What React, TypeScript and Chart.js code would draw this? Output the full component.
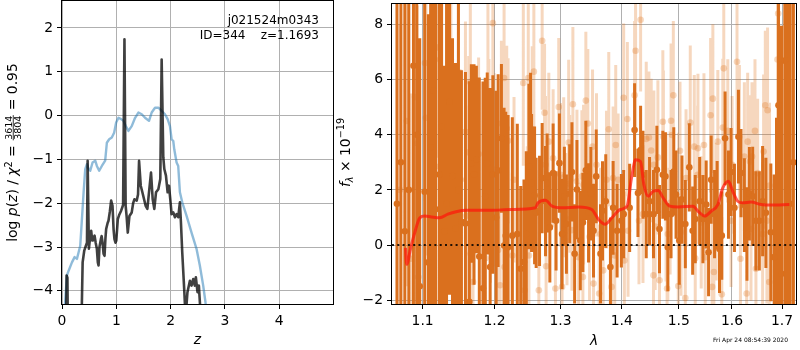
import React, { useEffect, useRef } from "react";
import { Chart, registerables } from "chart.js";
Chart.register(...registerables);

const FONT = "'DejaVu Sans', Verdana, sans-serif";

// ---------------- Left panel: p(z) ----------------
const pzZ = [0.0, 0.065, 0.085, 0.1, 0.115, 0.34, 0.38, 0.41, 0.44, 0.46,
  0.472, 0.495, 0.52, 0.538, 0.555, 0.569, 0.6, 0.62, 0.642, 0.66,
  0.673, 0.69, 0.716, 0.73, 0.746, 0.765, 0.783, 0.8, 0.813, 0.84,
  0.856, 0.88, 0.905, 0.93, 0.95, 0.966, 0.985, 1.0, 1.028, 1.052,
  1.089, 1.125, 1.15, 1.172, 1.19, 1.211, 1.242, 1.284, 1.31, 1.333,
  1.376, 1.4, 1.419, 1.45, 1.48, 1.511, 1.541, 1.572, 1.602, 1.639,
  1.67, 1.7, 1.731, 1.774, 1.81, 1.835, 1.865, 1.884, 1.914, 1.945,
  1.97, 1.994, 2.018, 2.049, 2.08, 2.11, 2.14, 2.171, 2.19, 2.214,
  2.25, 2.275, 2.31, 2.355, 2.385, 2.416, 2.446, 2.465, 2.495, 2.52,
  2.556, 2.6, 5.0];
const pzLog = [-6, -6, -3.65, -3.7, -6, -6, -3.35, -3.08, -2.97, -2.9,
  -1.03, -3.04, -2.75, -2.63, -2.85, -2.82, -2.74, -2.9, -3.04, -3.35,
  -3.42, -3.0, -2.82, -2.75, -2.89, -3.15, -3.2, -2.8, -2.59, -2.45,
  -2.4, -2.2, -1.94, -2.06, -2.6, -2.82, -2.9, -2.85, -2.36, -2.27,
  -2.17, -2.04, 1.74, -2.06, -2.3, -2.67, -2.29, -2.21, -2.0, -1.91,
  -1.94, -1.8, -1.03, -1.6, -1.75, -1.91, -2.06, -2.13, -1.75, -1.3,
  -1.91, -2.13, -1.75, -1.68, -1.45, 1.28, -0.95, -1.22, -1.37, -1.75,
  -1.6, -1.91, -2.25, -2.21, -2.32, -2.25, -2.32, -1.98, -2.44, -3.12,
  -3.96, -4.6, -4.03, -3.77, -3.88, -3.73, -3.88, -3.69, -4.03, -3.88,
  -4.6, -6, -6];
const chiZ = [0.0, 0.04, 0.09, 0.122, 0.183, 0.232, 0.275, 0.306, 0.336, 0.367,
  0.398, 0.428, 0.459, 0.49, 0.52, 0.563, 0.612, 0.642, 0.685, 0.734,
  0.795, 0.826, 0.869, 0.917, 0.96, 0.997, 1.04, 1.089, 1.131, 1.174,
  1.223, 1.284, 1.346, 1.407, 1.468, 1.529, 1.602, 1.651, 1.713, 1.774,
  1.835, 1.896, 1.945, 1.988, 2.018, 2.049, 2.067, 2.11, 2.14, 2.171,
  2.214, 2.294, 2.385, 2.477, 2.538, 2.6, 2.642, 2.7, 5.0];
const chiVal = [-6, -4.6, -3.65, -3.54, -3.35, -3.23, -3.27, -3.12, -2.97, -2.36,
  -1.75, -1.22, -1.11, -1.22, -1.26, -1.07, -1.03, -1.15, -1.26, -1.15,
  -1.03, -0.62, -0.54, -0.5, -0.39, -0.16, -0.05, -0.08, -0.12, -0.24,
  -0.35, -0.24, -0.05, 0.07, 0.03, -0.05, -0.12, 0.07, 0.18, 0.18,
  0.11, 0.03, -0.08, -0.24, -0.54, -0.58, -0.77, -1.07, -1.15, -1.75,
  -1.98, -2.29, -2.67, -3.04, -3.42, -3.88, -4.26, -5, -6];
const zRange = [0, 4.99];
const logRange = [-4.3, 2.615];
const zTicks = [0, 1, 2, 3, 4];
const logTicks = [-4, -3, -2, -1, 0, 1, 2];
const objName = "j021524m0343";
const objInfo = "ID=344    z=1.1693";

// ---------------- Right panel: spectrum ----------------
const darkLam = [
  1.0664, 1.0715, 1.0766, 1.0818, 1.0879, 1.0922, 1.0962, 1.1028, 1.1077, 1.1108,
  1.1145, 1.1175, 1.1225, 1.1256, 1.1297, 1.1324, 1.1365, 1.1406, 1.1447, 1.1488,
  1.153, 1.1586, 1.1641, 1.1669, 1.1707, 1.174, 1.1782, 1.1835, 1.1867, 1.1896,
  1.1938, 1.1977, 1.2025, 1.2054, 1.2102, 1.2141, 1.2166, 1.22, 1.2263, 1.2337,
  1.2388, 1.2437, 1.2472, 1.2512, 1.2537, 1.2552, 1.2598, 1.2622, 1.2674, 1.2714,
  1.2766, 1.2791, 1.2833, 1.2884, 1.293, 1.2983, 1.3024, 1.3061, 1.3093, 1.3145,
  1.3181, 1.3224, 1.3261, 1.3315, 1.3357, 1.3405, 1.3449, 1.3486, 1.353, 1.3574,
  1.3645, 1.3678, 1.3732, 1.381, 1.3855, 1.3922, 1.3994, 1.4033, 1.4135, 1.422,
  1.4278, 1.4324, 1.4365, 1.4422, 1.448, 1.4549, 1.4609, 1.4655, 1.4715, 1.4761,
  1.4804, 1.4862, 1.4911, 1.4952, 1.5011, 1.506, 1.5121, 1.5194, 1.5256, 1.5304,
  1.5386, 1.5447, 1.5508, 1.5553, 1.5602, 1.5666, 1.5715, 1.576, 1.5804, 1.5867,
  1.5932, 1.5982, 1.6048, 1.6126, 1.6176, 1.6242, 1.6293, 1.6341, 1.6406, 1.6471,
  1.6539, 1.6605, 1.6671, 1.6771, 1.684, 1.6886, 1.6927, 1.6989, 1.7057, 1.7112,
  1.7168, 1.7236];
const darkFlux = [
  1.5, 3.0, 0.5, 2.0, 6.5, 4.0, -1.5, 1.93, -0.63, 3.55,
  5.6, 1.3, 2.56, 4.3, 0.5, 1.5, 5.2, 2.5, 0.6, 2.0,
  0.84, 0.78, -2.06, 2.96, 2.56, 3.1, -0.42, -1.57, 1.77, 2.96,
  -0.8, 2.56, 1.0, 2.7, 3.87, -0.02, 0.34, -0.08, 0.34, 0.4,
  -0.86, -0.62, 0.4, 2.85, 3.25, 2.25, 1.8, 1.17, 1.24, 2.43,
  1.59, 2.25, 0.64, 2.61, 0.88, 2.97, 0.4, 1.77, 0.76, 1.86,
  2.65, -0.32, 2.01, 0.16, 0.82, 2.71, 1.17, 1.86, 0.52, 2.49,
  -0.32, 1.24, 1.59, -0.8, 1.35, 0.52, 0.88, 1.12, 1.35, 4.17,
  1.89, 3.45, 2.55, 1.12, 1.59, 1.12, 2.73, 0.58, 2.55, 2.49,
  -0.08, 1.12, 2.67, 1.83, 0.16, 1.65, 0.76, 2.82, 0.52, 0.94,
  1.59, 0.94, 1.47, -0.26, 2.37, 1.12, 1.45, -0.14, 0.34, 3.87,
  1.83, 2.65, 1.35, 3.93, 2.61, 1.45, 0.4, 1.86, 1.77, 0.88,
  0.88, 1.59, 1.17, 0.46, -0.44, 1.12, 5.07, -1.04, 6.69, 2.0,
  1.5, 3.0];
const darkErr = [
  9, 9, 9, 9, 9, 8, 9, 8, 9, 7,
  8, 9, 7, 8, 6, 8, 7, 5, 6, 7,
  5.5, 5.5, 8, 3.6, 4, 3.4, 6.5, 7.5, 4.3, 3.3,
  6.5, 3.6, 4.6, 3.5, 2.7, 5, 4.5, 4.8, 4.3, 4,
  3, 3, 3, 3, 3, 2.5, 2.5, 2, 2, 2,
  2, 1.8, 2, 1.8, 1.8, 1.8, 2, 1.8, 1.8, 1.8,
  1.8, 1.8, 1.8, 1.8, 1.8, 1.8, 1.8, 1.7, 1.7, 1.7,
  1.8, 1.8, 1.7, 1.8, 1.7, 1.7, 1.7, 1.6, 1.6, 1.7,
  1.6, 1.6, 1.6, 1.6, 1.6, 1.6, 1.6, 1.6, 1.6, 1.6,
  1.6, 1.6, 1.6, 1.6, 1.6, 1.6, 1.6, 1.6, 1.6, 1.6,
  1.6, 1.6, 1.6, 1.6, 1.6, 1.6, 1.6, 1.6, 1.6, 1.7,
  1.6, 1.6, 1.6, 1.7, 1.6, 1.7, 1.7, 1.7, 1.8, 1.8,
  1.8, 2, 2, 2.5, 3, 3.5, 8, 9, 9, 9,
  9, 9];

const lightLam = [
  1.0702, 1.0792, 1.0843, 1.09, 1.0931, 1.0944, 1.1032, 1.1045, 1.1112, 1.1145,
  1.1166, 1.1212, 1.1225, 1.1256, 1.1279, 1.1315, 1.1369, 1.1383, 1.1437, 1.1451,
  1.1488, 1.152, 1.1586, 1.16, 1.1632, 1.1655, 1.1659, 1.1693, 1.1772, 1.1871,
  1.1906, 1.192, 1.1943, 1.1977, 1.1996, 1.2054, 1.2083, 1.2102, 1.2141, 1.2148,
  1.218, 1.22, 1.2263, 1.2288, 1.2427, 1.2447, 1.2487, 1.2502, 1.2512, 1.2562,
  1.2587, 1.2663, 1.2714, 1.2751, 1.2766, 1.2775, 1.2817, 1.2884, 1.292, 1.2972,
  1.2999, 1.3024, 1.305, 1.3102, 1.3129, 1.3145, 1.3181, 1.3196, 1.3261, 1.3288,
  1.3341, 1.3357, 1.3368, 1.3405, 1.3437, 1.3465, 1.3514, 1.353, 1.3579, 1.3623,
  1.3645, 1.3689, 1.3744, 1.3782, 1.3827, 1.3855, 1.3882, 1.3899, 1.3939, 1.4033,
  1.4045, 1.4096, 1.4108, 1.422, 1.4237, 1.4296, 1.4324, 1.4365, 1.4422, 1.4469,
  1.4509, 1.4549, 1.4556, 1.4579, 1.4627, 1.4655, 1.4715, 1.4725, 1.4773, 1.4791,
  1.4804, 1.4845, 1.4862, 1.488, 1.4903, 1.4993, 1.5001, 1.5024, 1.5042, 1.5121,
  1.5134, 1.5212, 1.5286, 1.5304, 1.5348, 1.5354, 1.5415, 1.5466, 1.549, 1.5591,
  1.5621, 1.5634, 1.5653, 1.5696, 1.5728, 1.5804, 1.5823, 1.5842, 1.5919, 1.5982,
  1.6002, 1.6098, 1.6145, 1.6165, 1.6242, 1.6287, 1.6307, 1.6353, 1.6373, 1.6393,
  1.6452, 1.6471, 1.6505, 1.6605, 1.6625, 1.6659, 1.6691, 1.6705, 1.6739, 1.6745,
  1.6907, 1.6921];
const lightFlux = [
  2.0, 4.5, -0.5, 5.37, 3.69, -1.16, 6.6, 4.62, -0.38, 1.65,
  6.73, 7.17, 2.85, 4.71, -1.1, 1.71, 7.29, 6.73, 2.55, -1.46,
  6.27, 2.37, 4.11, 1.06, 3.36, 5.91, -0.32, -1.34, 3.3, -0.48,
  5.58, 3.25, 2.13, 8.05, 2.73, -0.18, -1.46, 4.41, 6.06, -0.8,
  4.23, 3.78, -0.38, 2.37, 5.88, -1.64, 0.58, 6.06, -0.38, 4.21,
  6.29, -1.64, 7.41, 4.8, 2.91, -0.77, 3.75, 3.15, -1.58, 5.01,
  2.55, -1.52, 2.46, 0.94, 3.72, 2.22, 0.54, 5.11, 2.31, -0.44,
  2.49, -1.16, 2.19, 5.24, 4.41, 0.3, 3.57, -1.4, 2.91, -1.76,
  0.4, -0.92, 2.37, 4.2, -1.52, 2.43, -0.38, 3.63, 2.37, 5.34,
  -0.56, 4.57, 0.52, 5.43, 7.05, 0.88, 8.17, 1.12, 3.85, 3.9,
  3.43, -1.1, 2.91, 0.67, 3.18, -1.28, 4.47, 3.93, 1.38, -1.58,
  0.4, 1.53, 4.51, 3.99, 5.43, -1.49, 1.47, 3.42, 0.46, -1.92,
  2.43, 4.44, 3.57, -0.48, 2.55, 3.51, 0.82, 3.63, -0.44, 4.71,
  -1.52, 5.31, -0.98, 1.21, 3.75, -1.79, 4.26, 6.41, 4.14, 0.88,
  2.91, 6.65, 3.93, -0.5, 3.21, -1.76, 3.75, 3.03, 0.58, 3.21,
  4.14, -0.86, 2.61, 0.4, 3.39, 5.07, 0.88, 4.89, -1.34, 2.16,
  6.73, 8.4];
const lightErr = [
  6, 6, 6, 5, 5, 5, 5, 5, 5, 5,
  5, 4, 5, 5, 4, 4, 4, 4, 4, 4,
  4, 4, 4, 4, 3.5, 3.5, 3.5, 3.5, 3.5, 3.5,
  3.5, 3.5, 3.5, 3, 3.5, 3, 3, 3, 3, 3,
  3, 3, 3, 3, 3, 3, 3, 3, 3, 3,
  3, 3, 2.5, 2.5, 2.5, 2.5, 2.5, 2.5, 2.5, 2.5,
  2.6, 2.3, 2.9, 2.4, 3.0, 2.5, 2.2, 2.8, 2.6, 2.7,
  2.4, 2.6, 2.9, 2.5, 2.7, 2.3, 2.8, 2.4, 2.6, 2.5,
  2.4, 2.7, 2.5, 2.8, 2.3, 2.6, 2.5, 2.9, 2.4, 2.7,
  2.5, 2.8, 2.4, 2.7, 2.9, 2.3, 2.6, 2.5, 2.8, 2.4,
  2.6, 2.5, 2.7, 2.3, 2.8, 2.5, 2.6, 2.4, 2.7, 2.5,
  2.4, 2.6, 2.8, 2.5, 2.7, 2.4, 2.6, 2.5, 2.3, 2.7,
  2.5, 2.8, 2.6, 2.4, 2.5, 2.7, 2.4, 2.6, 2.5, 2.8,
  2.6, 2.7, 2.4, 2.5, 2.6, 2.8, 2.5, 2.9, 2.6, 2.4,
  2.5, 2.8, 2.6, 2.5, 2.7, 2.6, 2.5, 2.4, 2.6, 2.7,
  2.6, 2.5, 2.7, 2.6, 2.8, 2.7, 3, 3, 3, 3,
  5, 5];

const modelLam = [1.0775, 1.079, 1.0843, 1.0896, 1.0962, 1.1028, 1.1117, 1.1229, 1.1342, 1.1456,
  1.1595, 1.1924, 1.2259, 1.2611, 1.265, 1.2764, 1.2868, 1.3027, 1.3288, 1.3501,
  1.3612, 1.3723, 1.3834, 1.3977, 1.4091, 1.4167, 1.4237, 1.4322, 1.4381, 1.4457,
  1.4544, 1.4632, 1.472, 1.4839, 1.4988, 1.5262, 1.5354, 1.5478, 1.5602, 1.5728,
  1.5823, 1.5932, 1.6015, 1.6112, 1.6209, 1.6374, 1.6572, 1.6773, 1.7152];
const modelFlux = [-0.1, -0.7, -0.1, 0.45, 0.98, 1.05, 1.02, 0.99, 1.12, 1.21,
  1.26, 1.26, 1.29, 1.35, 1.53, 1.62, 1.41, 1.35, 1.38, 1.29,
  0.93, 0.75, 0.99, 1.29, 1.41, 2.43, 3.09, 3.03, 2.19, 1.77,
  1.95, 1.98, 1.71, 1.41, 1.38, 1.41, 1.23, 1.05, 1.23, 1.47,
  2.07, 2.31, 1.95, 1.59, 1.53, 1.56, 1.47, 1.45, 1.47];

const lamRange = [1.06, 1.729];
const fluxRange = [-2.14, 8.745];
const lamTicks = [1.1, 1.2, 1.3, 1.4, 1.5, 1.6, 1.7];
const fluxTicks = [-2, 0, 2, 4, 6, 8];
const zeroLevel = 0;
const stamp = "Fri Apr 24 08:54:39 2020";

// ---------------- helpers ----------------
const fmtInt = (v: number) => (v < 0 ? "\u2212" + Math.abs(v) : String(v));
const fmtLam = (v: number) => Number(v).toFixed(1);

function xy(xs: number[], ys: number[]) {
  const n = Math.min(xs.length, ys.length);
  const out: { x: number; y: number }[] = [];
  for (let i = 0; i < n; i++) out.push({ x: xs[i], y: ys[i] });
  return out;
}
function errSeries(xs: number[], ys: number[], es: number[]) {
  const n = Math.min(xs.length, ys.length, es.length);
  const out: { x: number; y: number | null }[] = [];
  for (let i = 0; i < n; i++) {
    out.push({ x: xs[i], y: ys[i] - es[i] }, { x: xs[i], y: ys[i] + es[i] }, { x: xs[i], y: null });
  }
  return out;
}

type Piece = { t?: string; it?: boolean; size: number; dy?: number; frac?: [string, string] };

function drawRotated(ctx: CanvasRenderingContext2D, pieces: Piece[], cx: number, cy: number) {
  ctx.save();
  ctx.translate(cx, cy);
  ctx.rotate(-Math.PI / 2);
  ctx.fillStyle = "#000";
  ctx.textBaseline = "alphabetic";
  const font = (p: Piece) => `${p.it ? "italic " : ""}${p.size}px ${FONT}`;
  const widths = pieces.map((p) => {
    ctx.font = font(p);
    if (p.frac) return Math.max(ctx.measureText(p.frac[0]).width, ctx.measureText(p.frac[1]).width) + 2;
    return ctx.measureText(p.t || "").width;
  });
  const total = widths.reduce((a, b) => a + b, 0);
  let x = -total / 2;
  const base = 5;
  pieces.forEach((p, i) => {
    ctx.font = font(p);
    const w = widths[i];
    if (p.frac) {
      ctx.textAlign = "center";
      ctx.fillText(p.frac[0], x + w / 2, base - 5.5);
      ctx.fillText(p.frac[1], x + w / 2, base + 4.4);
      ctx.fillRect(x + 0.5, base - 4.2, w - 1, 0.8);
    } else {
      ctx.textAlign = "left";
      ctx.fillText(p.t || "", x, base + (p.dy || 0));
    }
    x += w;
  });
  ctx.restore();
}

function axisOpts(type: string, range: number[], ticks: number[], fmt: (v: number) => string, horizontal: boolean, size: number) {
  return {
    type,
    min: range[0],
    max: range[1],
    position: horizontal ? "bottom" : "left",
    afterBuildTicks: (s: any) => {
      s.ticks = ticks.map((v) => ({ value: v }));
    },
    afterFit: (s: any) => {
      if (horizontal) s.height = size;
      else s.width = size;
      s.paddingTop = 0;
      s.paddingBottom = 0;
      s.paddingLeft = 0;
      s.paddingRight = 0;
    },
    grid: { color: "#b0b0b0", lineWidth: 1, tickColor: "#000", tickLength: 5, tickWidth: 1, drawTicks: true },
    border: { display: false },
    ticks: {
      color: "#000",
      font: { family: FONT, size: 13.9 },
      padding: 4,
      autoSkip: false,
      maxRotation: 0,
      minRotation: 0,
      callback: (v: any) => fmt(Number(v)),
    },
  };
}

const framePlugin = {
  id: "frame",
  afterDraw(chart: any) {
    const { ctx, chartArea: a } = chart;
    ctx.save();
    ctx.strokeStyle = "#000";
    ctx.lineWidth = 1;
    const l = Math.round(a.left) - 0.5;
    const t = Math.round(a.top) - 0.5;
    const r = Math.round(a.right) + 0.5;
    const b = Math.round(a.bottom) + 0.5;
    ctx.strokeRect(l, t, r - l, b - t);
    ctx.restore();
  },
};

function LeftPanel() {
  const ref = useRef<HTMLCanvasElement>(null);
  useEffect(() => {
    const textPlugin = {
      id: "leftText",
      afterDraw(chart: any) {
        const ctx = chart.ctx as CanvasRenderingContext2D;
        drawRotated(
          ctx,
          [
            { t: "log ", size: 13.9 },
            { t: "p", it: true, size: 13.9 },
            { t: "(", size: 13.9 },
            { t: "z", it: true, size: 13.9 },
            { t: ") / ", size: 13.9 },
            { t: "\u03c7", it: true, size: 13.9 },
            { t: "2", size: 9.7, dy: -5.5 },
            { t: " = ", size: 13.9 },
            { frac: ["3614", "3804"], size: 9.5 },
            { t: " = 0.95", size: 13.9 },
          ],
          12,
          152.5
        );
        ctx.save();
        ctx.fillStyle = "#000";
        ctx.font = `italic 13.9px ${FONT}`;
        ctx.textAlign = "center";
        ctx.textBaseline = "alphabetic";
        const a = chart.chartArea;
        ctx.fillText("z", (a.left + a.right) / 2, 344);
        ctx.font = `12px ${FONT}`;
        ctx.textAlign = "right";
        ctx.fillText(objName, 319, 24);
        ctx.fillText(objInfo, 319, 39);
        ctx.restore();
      },
    };
    const chart = new Chart(ref.current as HTMLCanvasElement, {
      type: "line",
      data: {
        datasets: [
          {
            data: xy(pzZ, pzLog),
            borderColor: "rgba(0,0,0,0.75)",
            borderWidth: 2.6,
            pointRadius: 0,
            tension: 0,
            borderJoinStyle: "round",
            clip: 0,
            order: 0,
          },
          {
            data: xy(chiZ, chiVal),
            borderColor: "rgba(31,119,180,0.5)",
            borderWidth: 2.4,
            pointRadius: 0,
            tension: 0,
            borderJoinStyle: "round",
            clip: 0,
            order: 1,
          },
        ],
      } as any,
      options: {
        animation: false,
        responsive: false,
        devicePixelRatio: 1,
        events: [],
        layout: { padding: { top: 1, right: 7, left: 0, bottom: 0 } },
        plugins: { legend: { display: false }, tooltip: { enabled: false } },
        scales: {
          x: axisOpts("linear", zRange, zTicks, fmtInt, true, 46),
          y: axisOpts("linear", logRange, logTicks, fmtInt, false, 62),
        } as any,
      },
      plugins: [framePlugin, textPlugin],
    });
    return () => chart.destroy();
  }, []);
  return <canvas ref={ref} width={340} height={350} style={{ position: "absolute", left: 0, top: 0 }} />;
}

function RightPanel() {
  const ref = useRef<HTMLCanvasElement>(null);
  useEffect(() => {
    const textPlugin = {
      id: "rightText",
      afterDraw(chart: any) {
        const ctx = chart.ctx as CanvasRenderingContext2D;
        drawRotated(
          ctx,
          [
            { t: "f", it: true, size: 13.9 },
            { t: "\u03bb", it: true, size: 9.7, dy: 3 },
            { t: " \u00d7 10", size: 13.9 },
            { t: "\u221219", size: 9.7, dy: -6 },
          ],
          15,
          152.5
        );
        ctx.save();
        ctx.fillStyle = "#000";
        ctx.textBaseline = "alphabetic";
        const a = chart.chartArea;
        ctx.font = `italic 13.9px ${FONT}`;
        ctx.textAlign = "center";
        ctx.fillText("\u03bb", (a.left + a.right) / 2, 345);
        ctx.font = `6px ${FONT}`;
        ctx.textAlign = "right";
        ctx.fillText(stamp, 458, 342);
        ctx.restore();
      },
    };
    const dark = "rgb(218,112,30)";
    const light = "rgba(222,110,20,0.28)";
    const chart = new Chart(ref.current as HTMLCanvasElement, {
      type: "line",
      data: {
        datasets: [
          {
            data: xy(lamRange, [zeroLevel, zeroLevel]),
            borderColor: "rgba(0,0,0,0.85)",
            borderWidth: 2,
            borderDash: [2, 3.3],
            pointRadius: 0,
            clip: 0,
            order: 0,
          },
          {
            data: xy(modelLam, modelFlux),
            borderColor: "rgba(255,20,10,0.7)",
            borderWidth: 3,
            pointRadius: 0,
            cubicInterpolationMode: "monotone",
            clip: 0,
            order: 1,
          },
          {
            data: xy(darkLam, darkFlux),
            showLine: false,
            pointRadius: 3.3,
            pointBackgroundColor: dark,
            pointBorderWidth: 0,
            clip: 0,
            order: 2,
          },
          {
            data: errSeries(darkLam, darkFlux, darkErr),
            borderColor: dark,
            borderWidth: 3,
            pointRadius: 0,
            spanGaps: false,
            clip: 0,
            order: 3,
          },
          {
            data: xy(lightLam, lightFlux),
            showLine: false,
            pointRadius: 3.3,
            pointBackgroundColor: light,
            pointBorderWidth: 0,
            clip: 0,
            order: 4,
          },
          {
            data: errSeries(lightLam, lightFlux, lightErr),
            borderColor: light,
            borderWidth: 3,
            pointRadius: 0,
            spanGaps: false,
            clip: 0,
            order: 5,
          },
        ],
      } as any,
      options: {
        animation: false,
        responsive: false,
        devicePixelRatio: 1,
        events: [],
        layout: { padding: { top: 1, right: 1, left: 0, bottom: 0 } },
        plugins: { legend: { display: false }, tooltip: { enabled: false } },
        scales: {
          x: axisOpts("logarithmic", lamRange, lamTicks, fmtLam, true, 46),
          y: axisOpts("linear", fluxRange, fluxTicks, fmtInt, false, 62),
        } as any,
      },
      plugins: [framePlugin, textPlugin],
    });
    return () => chart.destroy();
  }, []);
  return <canvas ref={ref} width={470} height={350} style={{ position: "absolute", left: 330, top: 0 }} />;
}

export default function App() {
  return (
    <div style={{ position: "fixed", left: 0, top: 0, width: 800, height: 350, background: "#fff", fontFamily: FONT }}>
      <LeftPanel />
      <RightPanel />
    </div>
  );
}
